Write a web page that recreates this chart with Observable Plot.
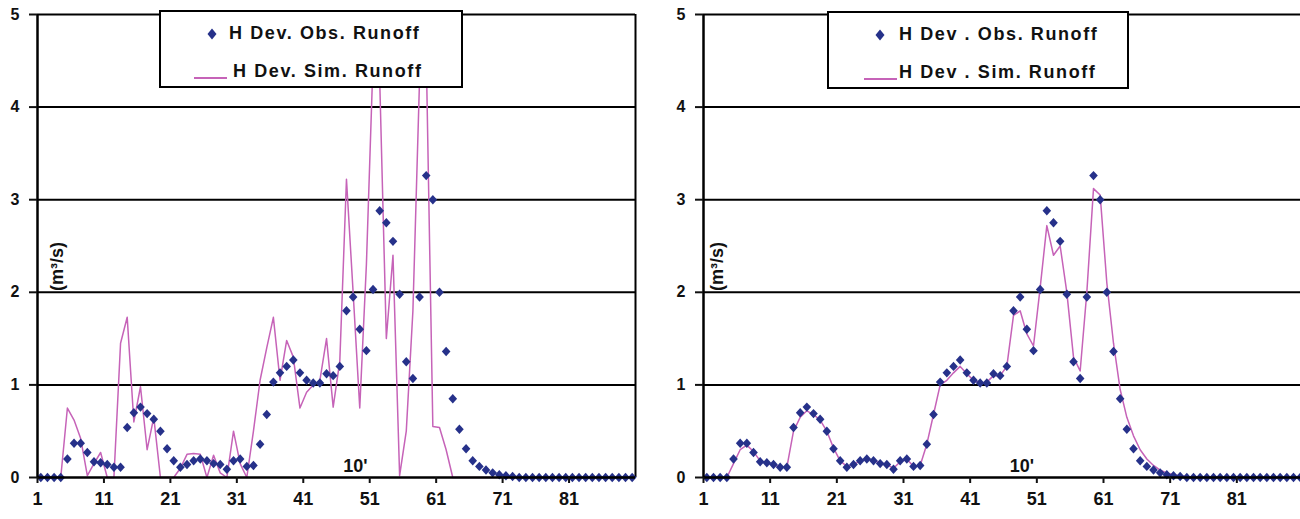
<!DOCTYPE html>
<html>
<head>
<meta charset="utf-8">
<script src="https://cdn.jsdelivr.net/npm/d3@7"></script>
<script src="https://cdn.jsdelivr.net/npm/@observablehq/plot@0.6"></script>
<style>
  html, body { margin: 0; padding: 0; background: #fff; }
  #wrap { position: relative; width: 1300px; height: 519px; overflow: hidden; display: flex; }
  .legend { position: absolute; box-sizing: border-box; border: 2px solid #000; background: #fff;
            font-family: "Liberation Sans", Arial, sans-serif; font-weight: bold; font-size: 18px;
            letter-spacing: 1.6px; color: #111; }
  .legend .t { position: absolute; white-space: pre; line-height: 1; }
  .legend svg { position: absolute; overflow: visible; }
  .ylab { position: absolute; font-family: "Liberation Sans", Arial, sans-serif; font-weight: bold;
          font-size: 18px; color: #111; transform: rotate(-90deg); transform-origin: center; white-space: pre; }
</style>
</head>
<body>
<div id="wrap"></div>
<script>
// ---- data ----
const days = d3.range(1, 91);
const obsRunoff = [0,0,0,0,0.2,0.37,0.37,0.27,0.17,0.16,
  0.14,0.11,0.11,0.54,0.70,0.76,0.69,0.63,0.50,0.31,
  0.18,0.11,0.14,0.18,0.20,0.18,0.15,0.14,0.09,0.18,
  0.20,0.12,0.13,0.36,0.68,1.03,1.13,1.20,1.27,1.13,
  1.05,1.02,1.02,1.12,1.10,1.20,1.80,1.95,1.60,1.37,
  2.03,2.88,2.75,2.55,1.98,1.25,1.07,1.95,3.26,3.00,
  2.00,1.36,0.85,0.52,0.31,0.18,0.12,0.08,0.05,0.03,
  0.02,0.01,0,0,0,0,0,0,0,0,
  0,0,0,0,0,0,0,0,0,0];
const simLeft = [0,0,0,0,0.75,0.62,0.42,0.02,0.15,0.27,
  0,0,1.45,1.73,0.6,0.98,0.3,0.65,0,0,
  0,0.1,0.25,0.26,0.25,0,0.24,0.05,0,0.5,
  0.15,0,0.5,1.05,1.4,1.73,1.05,1.48,1.3,0.75,
  0.92,1.0,1.05,1.5,0.76,1.26,3.22,2.0,0.75,2.3,
  4.5,4.3,1.5,2.4,0.02,0.5,1.8,4.3,4.6,0.55,
  0.54,0.3,0,0,0,0,0,0,0,0,
  0,0,0,0,0,0,0,0,0,0,
  0,0,0,0,0,0,0,0,0,0];
const simRight = [0,0,0,0,0.15,0.3,0.35,0.28,0.18,0.15,
  0.14,0.11,0.11,0.5,0.65,0.72,0.68,0.62,0.5,0.32,
  0.18,0.12,0.14,0.18,0.2,0.18,0.16,0.14,0.1,0.17,
  0.2,0.12,0.13,0.36,0.68,1.0,1.05,1.13,1.2,1.12,
  1.05,1.02,1.03,1.1,1.1,1.2,1.75,1.8,1.55,1.42,
  2.05,2.72,2.4,2.5,2.0,1.3,1.15,2.0,3.12,3.05,
  2.1,1.45,0.95,0.65,0.45,0.3,0.2,0.13,0.08,0.05,
  0.03,0.02,0.01,0,0,0,0,0,0,0,
  0,0,0,0,0,0,0,0,0,0];
const xTicks = [1, 11, 21, 31, 41, 51, 61, 71, 81];
const yTicks = [0, 1, 2, 3, 4, 5];
const gridValues = [1, 2, 3, 4, 5];
const yLabel = "(m³/s)";
const note = "10'";
const legendLeft = ["H Dev. Obs. Runoff", "H Dev. Sim. Runoff"];
const legendRight = ["H Dev . Obs. Runoff", "H Dev . Sim. Runoff"];

const obsColor = "#26318a";
const simColor = "#c663b8";

const diamond = {
  draw(ctx, size) {
    const r = Math.sqrt(size / Math.PI);
    ctx.moveTo(0, -r * 1.1); ctx.lineTo(r, 0); ctx.lineTo(0, r * 1.1); ctx.lineTo(-r, 0); ctx.closePath();
  }
};

function panel(sim, opts) {
  const rows = days.map((d, i) => ({day: d, obs: obsRunoff[i], sim: sim[i]}));
  const X = d => d.day + 0.5;
  return Plot.plot({
    width: 650, height: 519,
    marginLeft: opts.marginLeft, marginRight: opts.marginRight, marginTop: 14, marginBottom: 42,
    x: {domain: [1, opts.xMax]},
    y: {domain: [0, 5]},
    style: {background: "white", fontFamily: "Liberation Sans, Arial, sans-serif", color: "#111", overflow: "visible"},
    marks: [
      Plot.ruleY(gridValues, {stroke: "#000", strokeWidth: 2}),
      opts.border ? Plot.ruleX([opts.xMax], {y1: 0, y2: 5, stroke: "#000", strokeWidth: 2}) : null,
      Plot.line(rows, {x: X, y: "sim", stroke: simColor, strokeWidth: 1.5}),
      Plot.dot(rows, {x: X, y: "obs", symbol: diamond, r: 4.3, fill: obsColor, stroke: "none"}),
      Plot.ruleY([0], {stroke: "#000", strokeWidth: 2.5}),
      Plot.ruleX([1], {y1: 0, y2: 5, stroke: "#000", strokeWidth: 2.5}),
      Plot.axisY({ticks: yTicks, tickFormat: d => String(d), tickSize: 8, tickPadding: 10, fontSize: 16, fontWeight: "bold", strokeWidth: 2, label: null}),
      Plot.axisX({ticks: xTicks, tickFormat: d => String(d), tickSize: 6, tickPadding: 9, fontSize: 18, fontWeight: "bold", strokeWidth: 2, label: null}),
      Plot.text([note], {frameAnchor: "bottom", dx: opts.noteDx, dy: -6, lineAnchor: "bottom", fontSize: 18, fontWeight: "bold", fill: "#111"})
    ]
  });
}

const wrap = document.getElementById("wrap");
wrap.appendChild(panel(simLeft, {marginLeft: 37, marginRight: 15, xMax: 91, border: true, noteDx: 19}));
wrap.appendChild(panel(simRight, {marginLeft: 53, marginRight: 0, xMax: 90.55, border: false, noteDx: 20}));

function legend(left, top, width, labels, o) {
  const div = document.createElement("div");
  div.className = "legend";
  Object.assign(div.style, {left: left + "px", top: top + "px", width: width + "px", height: "78px"});
  div.innerHTML = `
    <svg style="left:${o.dia - 5}px;top:16px" width="10" height="12"><path d="M5,0.5L9.5,6L5,11.5L0.5,6Z" fill="${obsColor}"/></svg>
    <span class="t" style="left:${o.t1}px;top:12px">${labels[0]}</span>
    <svg style="left:${o.l1}px;top:64px" width="${o.l2 - o.l1}" height="4"><line x1="0" x2="${o.l2 - o.l1}" y1="2" y2="2" stroke="${simColor}" stroke-width="2"/></svg>
    <span class="t" style="left:${o.t2}px;top:50px">${labels[1]}</span>`;
  wrap.appendChild(div);
}
legend(159, 10, 304, legendLeft, {dia: 51, t1: 68, l1: 33, l2: 66, t2: 72});
legend(827, 11, 302, legendRight, {dia: 51, t1: 70, l1: 35, l2: 68, t2: 70});

function ylab(cx, cy) {
  const s = document.createElement("div");
  s.className = "ylab";
  s.textContent = yLabel;
  wrap.appendChild(s);
  const w = s.offsetWidth, h = s.offsetHeight;
  s.style.left = (cx - w / 2) + "px";
  s.style.top = (cy - h / 2) + "px";
}
ylab(57, 266);
ylab(717, 266);
</script>
</body>
</html>
